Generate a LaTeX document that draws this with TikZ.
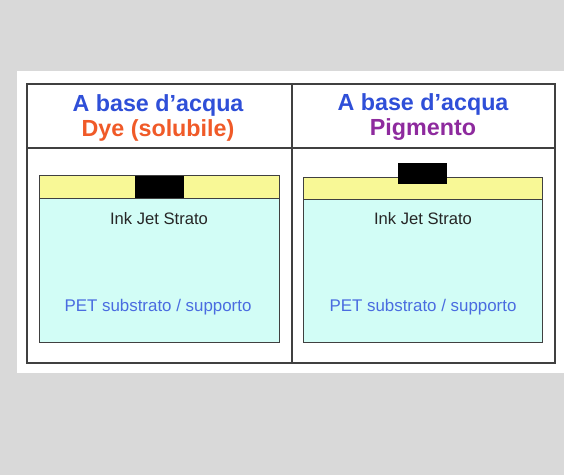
\documentclass[tikz,border=0pt]{standalone}
\usepackage{fontspec}
\setmainfont{Liberation Sans}
\definecolor{bggray}{HTML}{D9D9D9}
\definecolor{hblue}{HTML}{2F4FD8}
\definecolor{horange}{HTML}{F05A28}
\definecolor{hpurple}{HTML}{8E2A9E}
\definecolor{layyellow}{HTML}{F8F896}
\definecolor{laycyan}{HTML}{D2FDF6}
\definecolor{petblue}{HTML}{4A6CE0}
\definecolor{lineg}{HTML}{404040}
\tikzset{
  tabline/.style={draw=lineg, line width=1.2pt},
  boxline/.style={draw=lineg, line width=1pt},
  head/.style={font=\fontsize{23.3}{25}\selectfont\bfseries, align=center, inner sep=0pt},
  inklabel/.style={font=\fontsize{16.6}{19}\selectfont, text=black!85, inner sep=0pt},
  petlabel/.style={font=\fontsize{16.9}{19}\selectfont, text=petblue, inner sep=0pt},
}
\begin{document}
\begin{tikzpicture}[x=1pt,y=-1pt]
\fill[bggray] (0,0) rectangle (564,475);
\useasboundingbox (0,0) rectangle (564,475);
\fill[white] (17,71) rectangle (564,373);
% table
\draw[tabline] (27,84) rectangle (555,363);
\draw[tabline] (27,148) -- (555,148);
\draw[tabline] (292,84) -- (292,363);
% headers
\node[head] (h1) at (158,117.5) {\textcolor{hblue}{A base d’acqua}\\\textcolor{horange}{Dye (solubile)}};
\node[head] (h2) at (423,117.5) {\textcolor{hblue}{A base d’acqua}\\\textcolor{hpurple}{Pigmento}};
% left stack
\fill[laycyan] (39,198) rectangle (279,342);
\fill[layyellow] (39,175) rectangle (279,198);
\fill[black] (135,175) rectangle (184,198);
\draw[boxline] (39,175) rectangle (279,342);
\draw[boxline] (39,198) -- (279,198);
\node[inklabel] (ink1) at (159,219) {Ink Jet Strato};
\node[petlabel] (pet1) at (158,307) {PET substrato / supporto};
% right stack
\fill[laycyan] (303,199) rectangle (542,342);
\fill[layyellow] (303,177) rectangle (542,199);
\draw[boxline] (303,177) rectangle (542,342);
\draw[boxline] (303,199) -- (542,199);
\fill[black] (398,163) rectangle (447,184);
\node[inklabel] (ink2) at (423,219) {Ink Jet Strato};
\node[petlabel] (pet2) at (423,307) {PET substrato / supporto};
\end{tikzpicture}
\end{document}
